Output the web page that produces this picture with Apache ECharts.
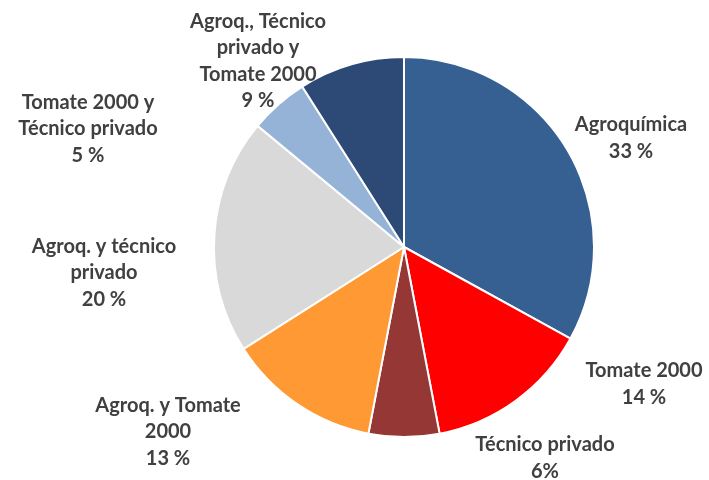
<!DOCTYPE html>
<html>
<head>
<meta charset="utf-8">
<script src="https://cdn.jsdelivr.net/npm/echarts@6/dist/echarts.min.js"></script>
<style>
  html, body { margin: 0; padding: 0; background: #fff; }
  #chart { width: 709px; height: 480px; }
</style>
</head>
<body>
<div id="chart"></div>
<script>
// datos
const categories = [
	'Agroquímica',
	'Tomate 2000',
	'Técnico privado',
	'Agroq. y Tomate\n2000',
	'Agroq. y técnico\nprivado',
	'Tomate 2000 y\nTécnico privado',
	'Agroq., Técnico\nprivado y\nTomate 2000'
];
const values = [33, 14, 6, 13, 20, 5, 9];
const valueSuffix = [' %', ' %', '%', ' %', ' %', ' %', ' %'];

const colors = ['#376092', '#FF0000', '#953735', '#FF9933', '#D9D9D9', '#95B3D7', '#2C4A75'];
// centro de cada etiqueta (px)
const labelPos = [[631, 138], [644, 384], [545, 458], [168, 432], [104, 273], [88, 129], [258, 61]];

const chart = echarts.init(document.getElementById('chart'));

chart.setOption({
	animation: false,
	series: [{
		type: 'pie',
		center: [404, 247],
		radius: 190,
		startAngle: 90,
		clockwise: true,
		itemStyle: {
			borderColor: '#fff',
			borderWidth: 2
		},
		label: {
			show: true,
			position: 'outside',
			color: '#404040',
			fontFamily: 'Lato',
			fontWeight: 'bold',
			fontSize: 20,
			lineHeight: 26.5,
			align: 'center',
			overflow: 'none',
			formatter: (p) => p.name + '\n' + p.value + valueSuffix[p.dataIndex]
		},
		labelLine: { show: false },
		labelLayout: (params) => {
			const pos = labelPos[params.dataIndex];
			return {
				x: pos[0],
				y: pos[1],
				align: 'center',
				verticalAlign: 'middle'
			};
		},
		data: categories.map((name, i) => ({
			name,
			value: values[i],
			itemStyle: { color: colors[i] }
		}))
	}]
});
</script>
</body>
</html>
